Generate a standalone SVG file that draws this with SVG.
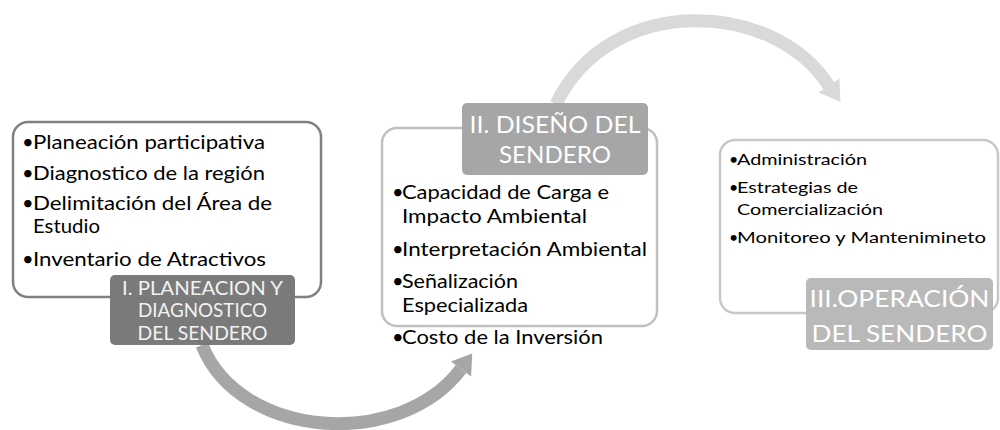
<svg xmlns="http://www.w3.org/2000/svg" width="1000" height="430" viewBox="0 0 1000 430">
<style>
.box{fill:#ffffff;stroke-width:2.5}
.t{font-family:Lato,"Liberation Sans",sans-serif;fill:#000000}
.t20{font-size:20px}
.t16{font-size:16px}
.lab{font-family:Lato,"Liberation Sans",sans-serif;text-anchor:middle}
</style>
<rect width="1000" height="430" fill="#ffffff"/>
<g id="connectors">
  <path d="M 202 345 C 240 440, 400 450, 461 369" fill="none" stroke="#a6a6a6" stroke-width="13"/>
  <polygon points="450.9,361.6 472.2,353.6 471.1,376.4" fill="#a6a6a6"/>
  <path d="M 556 104 C 610 -8, 775 0, 829 86" fill="none" stroke="#d9d9d9" stroke-width="13"/>
  <polygon points="839.4,78.4 840.5,102 818.6,92.6" fill="#d9d9d9"/>
</g>
<g id="node1">
  <rect class="box" x="13" y="122" width="308" height="175" rx="15" stroke="#808080"/>
  <g class="t t20">
    <text x="22" y="149">•</text><text x="33" y="149" textLength="232" lengthAdjust="spacingAndGlyphs">Planeación participativa</text>
    <text x="22" y="180">•</text><text x="33" y="180" textLength="232" lengthAdjust="spacingAndGlyphs">Diagnostico de la región</text>
    <text x="22" y="210">•</text><text x="33" y="210" textLength="239" lengthAdjust="spacingAndGlyphs">Delimitación del Área de</text>
    <text x="33" y="233" textLength="67" lengthAdjust="spacingAndGlyphs">Estudio</text>
    <text x="22" y="266">•</text><text x="33" y="266" textLength="233" lengthAdjust="spacingAndGlyphs">Inventario de Atractivos</text>
  </g>
  <rect x="110" y="275" width="185" height="70" rx="5" fill="#7a7a7a"/>
  <g class="lab" font-size="18.5" fill="#f2f2f2">
    <text x="202.5" y="295" textLength="161" lengthAdjust="spacingAndGlyphs">I. PLANEACION Y</text>
    <text x="202.5" y="317" textLength="129" lengthAdjust="spacingAndGlyphs">DIAGNOSTICO</text>
    <text x="202.5" y="340" textLength="130" lengthAdjust="spacingAndGlyphs">DEL SENDERO</text>
  </g>
</g>
<g id="node2">
  <rect class="box" x="382" y="128" width="275" height="198" rx="15" stroke="#c0c0c0"/>
  <g class="t t20">
    <text x="392" y="199">•</text><text x="402" y="199" textLength="207" lengthAdjust="spacingAndGlyphs">Capacidad de Carga e</text>
    <text x="402" y="223" textLength="185" lengthAdjust="spacingAndGlyphs">Impacto Ambiental</text>
    <text x="392" y="256">•</text><text x="402" y="256" textLength="245" lengthAdjust="spacingAndGlyphs">Interpretación Ambiental</text>
    <text x="392" y="288">•</text><text x="402" y="288" textLength="116" lengthAdjust="spacingAndGlyphs">Señalización</text>
    <text x="402" y="312" textLength="126" lengthAdjust="spacingAndGlyphs">Especializada</text>
    <text x="392" y="344">•</text><text x="402" y="344" textLength="201" lengthAdjust="spacingAndGlyphs">Costo de la Inversión</text>
  </g>
  <rect x="462" y="103" width="186" height="72" rx="5" fill="#a6a6a6"/>
  <g class="lab" font-size="24" fill="#ffffff">
    <text x="555" y="133" textLength="171" lengthAdjust="spacingAndGlyphs">II. DISEÑO DEL</text>
    <text x="555" y="163" textLength="112" lengthAdjust="spacingAndGlyphs">SENDERO</text>
  </g>
</g>
<g id="node3">
  <rect class="box" x="720" y="140" width="278" height="173" rx="15" stroke="#c8c8c8"/>
  <g class="t t16">
    <text x="729" y="165">•</text><text x="737" y="165" textLength="130" lengthAdjust="spacingAndGlyphs">Administración</text>
    <text x="729" y="193">•</text><text x="737" y="193" textLength="121" lengthAdjust="spacingAndGlyphs">Estrategias de</text>
    <text x="737" y="215" textLength="146" lengthAdjust="spacingAndGlyphs">Comercialización</text>
    <text x="729" y="243">•</text><text x="737" y="243" textLength="249" lengthAdjust="spacingAndGlyphs">Monitoreo y Mantenimineto</text>
  </g>
  <rect x="806" y="278" width="187" height="72" rx="5" fill="#b9b9b9"/>
  <g class="lab" font-size="23" fill="#ffffff">
    <text x="899.5" y="307" textLength="180" lengthAdjust="spacingAndGlyphs">III.OPERACIÓN</text>
    <text x="899.5" y="342" textLength="176" lengthAdjust="spacingAndGlyphs">DEL SENDERO</text>
  </g>
</g>
</svg>
